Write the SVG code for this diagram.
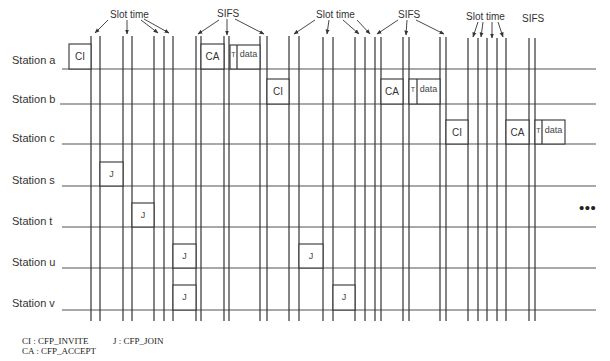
<svg xmlns="http://www.w3.org/2000/svg" width="610" height="361" viewBox="0 0 610 361">
<style>
.ln{stroke:#333;stroke-width:1.2;fill:none}
.hl{stroke:#555;stroke-width:1.2;fill:none}
.bx{fill:#fff;stroke:#333;stroke-width:1.1}
.lb{font-family:"Liberation Sans",Arial,sans-serif;font-size:11px;fill:#333}
.tp{font-family:"Liberation Sans",Arial,sans-serif;font-size:10px;fill:#333}
.bt{font-family:"Liberation Sans",Arial,sans-serif;font-size:10px;fill:#333;text-anchor:middle}
.sm{font-family:"Liberation Sans",Arial,sans-serif;font-size:9px;fill:#444;text-anchor:middle}
.tt{font-family:"Liberation Sans",Arial,sans-serif;font-size:7px;fill:#444;text-anchor:middle}
.lg{font-family:"Liberation Serif","Times New Roman",serif;font-size:9px;fill:#222}
.ar{stroke:#333;stroke-width:0.9;fill:none;marker-end:url(#ah)}
</style>
<defs>
<marker id="ah" viewBox="0 0 10 10" refX="9" refY="5" markerWidth="5" markerHeight="5" orient="auto" markerUnits="userSpaceOnUse">
<path d="M0,1 L10,5 L0,9 z" fill="#333"/>
</marker>
</defs>
<rect width="610" height="361" fill="#fff"/>
<g id="timeline">
<g id="h-lines" class="hl">
<line x1="62" y1="69" x2="596" y2="69"/>
<line x1="60" y1="104" x2="596" y2="104"/>
<line x1="62" y1="144" x2="596" y2="144"/>
<line x1="62" y1="186" x2="596" y2="186"/>
<line x1="62" y1="227" x2="596" y2="227"/>
<line x1="62" y1="268" x2="596" y2="268"/>
<line x1="62" y1="310" x2="596" y2="310"/>
</g>
<g id="v-lines" class="ln">
<line x1="91" y1="36" x2="91" y2="321"/>
<line x1="100" y1="36" x2="100" y2="321"/>
<line x1="123" y1="36" x2="123" y2="321"/>
<line x1="132" y1="36" x2="132" y2="321"/>
<line x1="154" y1="36" x2="154" y2="321"/>
<line x1="164" y1="36" x2="164" y2="321"/>
<line x1="173" y1="36" x2="173" y2="321"/>
<line x1="196" y1="36" x2="196" y2="321"/>
<line x1="201" y1="36" x2="201" y2="321"/>
<line x1="224" y1="36" x2="224" y2="321"/>
<line x1="229" y1="36" x2="229" y2="321"/>
<line x1="260" y1="36" x2="260" y2="321"/>
<line x1="267" y1="36" x2="267" y2="321"/>
<line x1="289" y1="36" x2="289" y2="321"/>
<line x1="299" y1="36" x2="299" y2="321"/>
<line x1="323" y1="37" x2="323" y2="321"/>
<line x1="333" y1="37" x2="333" y2="321"/>
<line x1="355" y1="37" x2="355" y2="321"/>
<line x1="365" y1="37" x2="365" y2="321"/>
<line x1="375" y1="37" x2="375" y2="321"/>
<line x1="381" y1="37" x2="381" y2="321"/>
<line x1="403" y1="37" x2="403" y2="321"/>
<line x1="409" y1="37" x2="409" y2="321"/>
<line x1="440" y1="37" x2="440" y2="321"/>
<line x1="446" y1="37" x2="446" y2="321"/>
<line x1="468" y1="38" x2="468" y2="321"/>
<line x1="478" y1="38" x2="478" y2="321"/>
<line x1="487" y1="38" x2="487" y2="321"/>
<line x1="497" y1="38" x2="497" y2="321"/>
<line x1="506" y1="38" x2="506" y2="321"/>
<line x1="529" y1="38" x2="529" y2="321"/>
<line x1="535" y1="38" x2="535" y2="321"/>
</g>
</g>
<g id="labels">
<text class="lb" x="12" y="64">Station a</text>
<text class="lb" x="12" y="103">Station b</text>
<text class="lb" x="12" y="142">Station c</text>
<text class="lb" x="12" y="184">Station s</text>
<text class="lb" x="12" y="225">Station t</text>
<text class="lb" x="12" y="266">Station u</text>
<text class="lb" x="12" y="307">Station v</text>
</g>
<g id="station-a">
<rect class="bx" x="69" y="44" width="22" height="25"/><text class="bt" x="80" y="60">CI</text>
<rect class="bx" x="201" y="44" width="23" height="25"/><text class="bt" x="212.5" y="60">CA</text>
<rect class="bx" x="230" y="45" width="30" height="24"/><line class="ln" x1="237" y1="45" x2="237" y2="69"/>
<text class="tt" x="233.5" y="57">T</text><text class="sm" x="248.5" y="57">data</text>
</g>
<g id="station-b">
<rect class="bx" x="267" y="79" width="22" height="25"/><text class="bt" x="278" y="95">CI</text>
<rect class="bx" x="381" y="79" width="22" height="25"/><text class="bt" x="392" y="95">CA</text>
<rect class="bx" x="409" y="79" width="31" height="25"/><line class="ln" x1="417" y1="79" x2="417" y2="104"/>
<text class="tt" x="413" y="92">T</text><text class="sm" x="428.5" y="92">data</text>
</g>
<g id="station-c">
<rect class="bx" x="446" y="120" width="22" height="24"/><text class="bt" x="457" y="136">CI</text>
<rect class="bx" x="506" y="120" width="23" height="24"/><text class="bt" x="517.5" y="136">CA</text>
<rect class="bx" x="535" y="120" width="30" height="24"/><line class="ln" x1="542" y1="120" x2="542" y2="144"/>
<text class="tt" x="538.5" y="133">T</text><text class="sm" x="553.5" y="133">data</text>
</g>
<g id="station-s">
<rect class="bx" x="100" y="162" width="23" height="24"/><text class="sm" x="111.5" y="177">J</text>
</g>
<g id="station-t">
<rect class="bx" x="132" y="203" width="22" height="24"/><text class="sm" x="143" y="218">J</text>
</g>
<g id="station-u">
<rect class="bx" x="173" y="244" width="23" height="24"/><text class="sm" x="184.5" y="259">J</text>
<rect class="bx" x="299" y="244" width="24" height="24"/><text class="sm" x="311" y="259">J</text>
</g>
<g id="station-v">
<rect class="bx" x="173" y="285" width="23" height="25"/><text class="sm" x="184.5" y="300">J</text>
<rect class="bx" x="333" y="285" width="22" height="25"/><text class="sm" x="344" y="300">J</text>
</g>
<g id="top-labels">
<text class="tp" x="110" y="18">Slot time</text>
<text class="tp" x="217" y="17">SIFS</text>
<text class="tp" x="316" y="18">Slot time</text>
<text class="tp" x="398" y="18">SIFS</text>
<text class="tp" x="466" y="20">Slot time</text>
<text class="tp" x="522" y="22">SIFS</text>
</g>
<g id="connectors">
<line class="ar" x1="108" y1="20" x2="95" y2="33"/>
<line class="ar" x1="127" y1="20" x2="127" y2="34"/>
<line class="ar" x1="141" y1="20" x2="158" y2="33"/>
<line class="ar" x1="144" y1="19" x2="169" y2="33"/>
<line class="ar" x1="219" y1="20" x2="198" y2="34"/>
<line class="ar" x1="227" y1="19" x2="227" y2="35"/>
<line class="ar" x1="235" y1="19" x2="264" y2="34"/>
<line class="ar" x1="315" y1="20" x2="294" y2="34"/>
<line class="ar" x1="329" y1="20" x2="327" y2="34"/>
<line class="ar" x1="343" y1="20" x2="359" y2="34"/>
<line class="ar" x1="357" y1="20" x2="370" y2="34"/>
<line class="ar" x1="398" y1="20" x2="377" y2="34"/>
<line class="ar" x1="407" y1="20" x2="406" y2="35"/>
<line class="ar" x1="416" y1="20" x2="444" y2="34"/>
<line class="ar" x1="478" y1="22" x2="473" y2="37"/>
<line class="ar" x1="483" y1="22" x2="481" y2="37"/>
<line class="ar" x1="492" y1="22" x2="492" y2="38"/>
<line class="ar" x1="498" y1="22" x2="503" y2="37"/>
</g>
<text x="579" y="213" style="font-family:'Liberation Sans',Arial,sans-serif;font-size:15px;fill:#222;letter-spacing:0.5px">•••</text>
<g id="legend">
<text class="lg" x="22" y="344">CI : CFP_INVITE</text>
<text class="lg" x="113" y="344">J : CFP_JOIN</text>
<text class="lg" x="22" y="354">CA : CFP_ACCEPT</text>
</g>
</svg>
